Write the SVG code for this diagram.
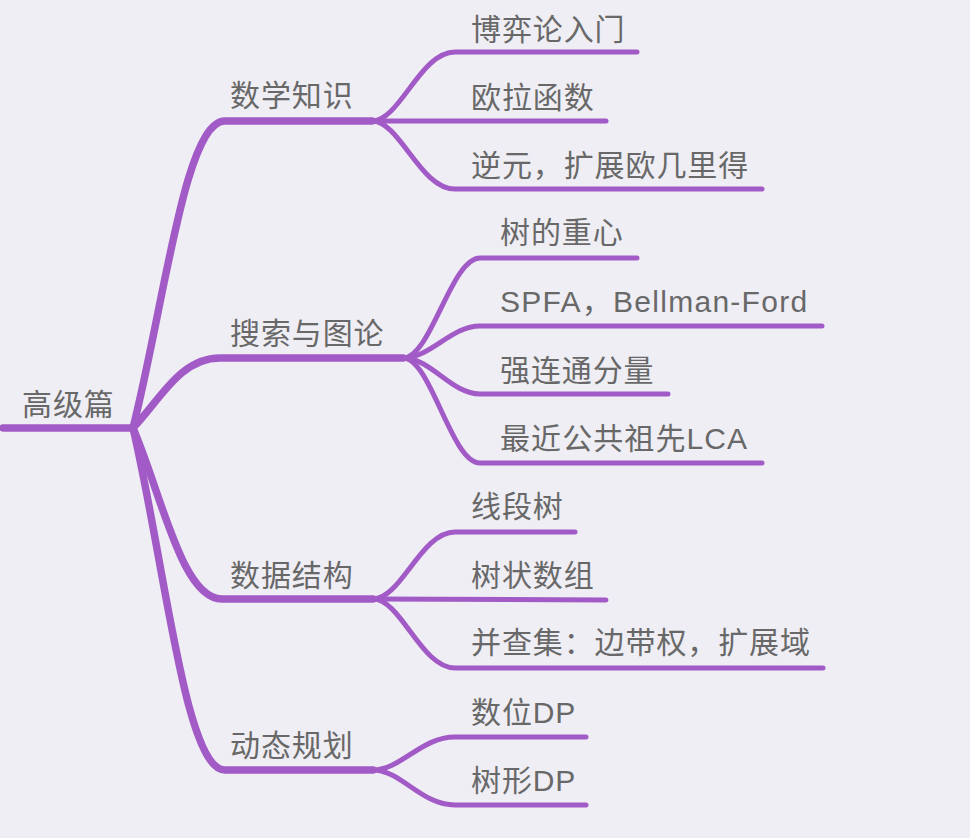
<svg xmlns="http://www.w3.org/2000/svg" width="970" height="838" viewBox="0 0 970 838">
<style>
.bg{fill:#EFEEF4}
.c{fill:none;stroke:#A25BC6;stroke-linecap:round;stroke-linejoin:round}
.c1{stroke-width:7.5}
.c2{stroke-width:5}
text{font-family:"Liberation Sans","Noto Sans CJK SC",sans-serif;font-size:30px;fill:#686868;letter-spacing:0.9px}
</style>
<rect class="bg" width="970" height="838"/>
<g id="connectors">
  <path class="c c1" d="M3,428 L133,428"/>
  <path class="c c1" d="M133,428 C165,300 185,121 225,121 L372,121"/>
  <path class="c c1" d="M133,428 C160,400 180,358 220,358 L403,358"/>
  <path class="c c1" d="M133,428 C162,496 182,599 222,599 L373,599"/>
  <path class="c c1" d="M133,428 C165,565 185,770 225,770 L373,770"/>

  <path class="c c2" d="M372,121 C400,121 420,52 455,52 L637,52"/>
  <path class="c c2" d="M372,121 L606,121"/>
  <path class="c c2" d="M372,121 C400,121 420,189 455,189 L762,189"/>

  <path class="c c2" d="M403,358 C431,358 451,258 480,258 L637,258"/>
  <path class="c c2" d="M403,358 C431,358 451,326 480,326 L822,326"/>
  <path class="c c2" d="M403,358 C431,358 451,394 480,394 L668,394"/>
  <path class="c c2" d="M403,358 C431,358 451,463 480,463 L762,463"/>

  <path class="c c2" d="M373,599 C401,599 421,532 455,532 L575,532"/>
  <path class="c c2" d="M373,599 L606,600"/>
  <path class="c c2" d="M373,599 C401,599 421,668 455,668 L823,668"/>

  <path class="c c2" d="M373,770 C401,770 421,737 455,737 L586,737"/>
  <path class="c c2" d="M373,770 C401,770 421,805 455,805 L586,805"/>
</g>
<g id="root"><text x="22" y="415">高级篇</text></g>
<g id="n-math"><text x="230" y="106">数学知识</text></g>
<g id="n-search"><text x="230" y="344">搜索与图论</text></g>
<g id="n-ds"><text x="230" y="586">数据结构</text></g>
<g id="n-dp"><text x="230" y="756">动态规划</text></g>
<g id="n-game"><text x="471" y="40">博弈论入门</text></g>
<g id="n-euler"><text x="471" y="108">欧拉函数</text></g>
<g id="n-inverse"><text x="471" y="176">逆元，扩展欧几里得</text></g>
<g id="n-centroid"><text x="500" y="243">树的重心</text></g>
<g id="n-spfa"><text x="500" y="312" textLength="308" lengthAdjust="spacing">SPFA，Bellman-Ford</text></g>
<g id="n-scc"><text x="500" y="381">强连通分量</text></g>
<g id="n-lca"><text x="500" y="449" textLength="248" lengthAdjust="spacing">最近公共祖先LCA</text></g>
<g id="n-segtree"><text x="471" y="517">线段树</text></g>
<g id="n-bit"><text x="471" y="586">树状数组</text></g>
<g id="n-dsu"><text x="471" y="653">并查集：边带权，扩展域</text></g>
<g id="n-digitdp"><text x="471" y="723">数位DP</text></g>
<g id="n-treedp"><text x="471" y="791">树形DP</text></g>
</svg>
